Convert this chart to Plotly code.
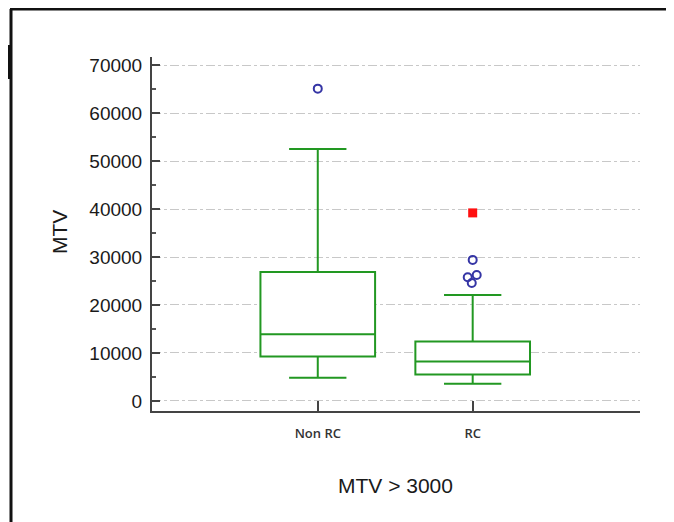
import plotly.graph_objects as go

categories = ["Non RC", "RC"]
positions = [0, 1]
q1 = [9250, 5500]
median = [13900, 8200]
q3 = [26900, 12400]
lower_fence = [4850, 3600]
upper_fence = [52500, 22100]

# outliers (blue open circles)
out_x = [0, 1, 0.968, 1.026, 0.994]
out_y = [65100, 29400, 25800, 26250, 24600]
# far outlier (red square)
far_x = [1]
far_y = [39200]

y_ticks = [0, 10000, 20000, 30000, 40000, 50000, 60000, 70000]
y_tick_text = ["0", "10000", "20000", "30000", "40000", "50000", "60000", "70000"]

green = "rgb(34,152,34)"
fig = go.Figure()
for i, c in enumerate(categories):
    fig.add_trace(go.Box(
        x=[positions[i]], q1=[q1[i]], median=[median[i]], q3=[q3[i]],
        lowerfence=[lower_fence[i]], upperfence=[upper_fence[i]],
        width=0.74, whiskerwidth=0.5, boxpoints=False,
        line=dict(color=green, width=2), fillcolor="white",
        name=c, showlegend=False, hoverinfo="skip"))

fig.add_trace(go.Scatter(x=out_x, y=out_y, mode="markers",
                         marker=dict(symbol="circle-open", size=8, color="#3535a5",
                                     line=dict(width=2, color="#3535a5")),
                         showlegend=False))
fig.add_trace(go.Scatter(x=far_x, y=far_y, mode="markers",
                         marker=dict(symbol="square", size=9, color="#ff1010"),
                         showlegend=False))

font = "Liberation Sans, Arial, sans-serif"
W, H = 666, 514
ML, MR, MT, MB = 144, 34, 49, 111
fig.update_layout(
    width=W, height=H,
    margin=dict(l=ML, r=MR, t=MT, b=MB),
    paper_bgcolor="white", plot_bgcolor="white",
    font=dict(family=font, color="#222"),
    xaxis=dict(range=[-1.07, 2.08], tickvals=positions, ticktext=categories,
               showline=True, linecolor="#444", linewidth=2,
               ticks="inside", ticklen=10, tickwidth=2, tickcolor="#444",
               showgrid=False, zeroline=False, ticklabelstandoff=9,
               tickfont=dict(size=13, color="#333", family="Open Sans, sans-serif",
                             weight=600),
               automargin=False),
    yaxis=dict(range=[-2100, 71700], tickvals=y_ticks, ticktext=y_tick_text,
               showline=True, linecolor="#444", linewidth=2,
               ticks="inside", ticklen=8, tickwidth=2, tickcolor="#444",
               minor=dict(ticks="inside", dtick=5000, tick0=5000, ticklen=4,
                          tickwidth=1.5, tickcolor="#555", showgrid=False),
               showgrid=True, gridcolor="#c8c8c8", gridwidth=1, griddash="dashdot",
               zeroline=False, tickfont=dict(size=19, color="#1a1a1a"),
               ticklabelstandoff=4, automargin=False),
)

pw = W - ML - MR
ph = H - MT - MB
def px_x(px):
    return (px - ML) / pw
def px_y(py):
    return (H - MB - py) / ph

fig.add_annotation(text="MTV > 3000", xref="paper", yref="paper",
                   x=px_x(387), y=px_y(478), showarrow=False,
                   xanchor="center", yanchor="middle",
                   font=dict(size=21, color="#1a1a1a"))
fig.add_annotation(text="MTV", xref="paper", yref="paper",
                   x=px_x(51), y=px_y(224), showarrow=False, textangle=-90,
                   xanchor="center", yanchor="middle",
                   font=dict(size=21, color="#1a1a1a"))

# outer frame lines (screenshot border)
fig.add_shape(type="line", xref="paper", yref="paper",
              x0=px_x(2), x1=px_x(680), y0=px_y(1), y1=px_y(1),
              line=dict(color="#111", width=3))
fig.add_shape(type="line", xref="paper", yref="paper",
              x0=px_x(3), x1=px_x(3), y0=px_y(1), y1=px_y(530),
              line=dict(color="#111", width=3))
fig.add_shape(type="rect", xref="paper", yref="paper",
              x0=px_x(-2), x1=px_x(3), y0=px_y(37), y1=px_y(71),
              line=dict(width=0), fillcolor="#111")

fig.write_html("out.html")
